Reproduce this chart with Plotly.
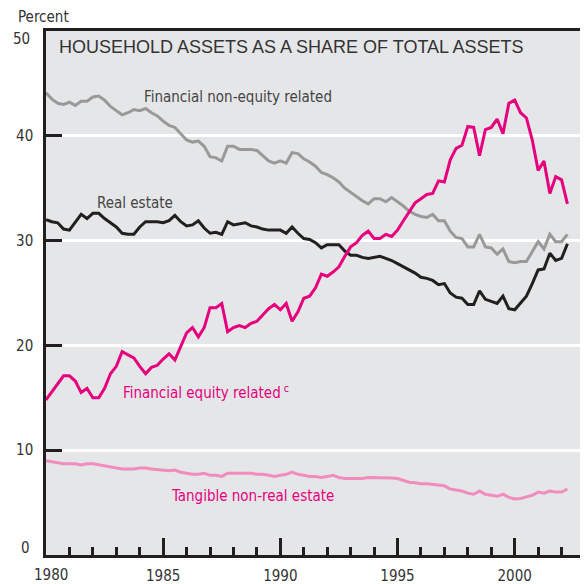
import plotly.graph_objects as go

# Quarterly data, 1980Q1 .. 2002Q2
start_year = 1980
n_quarters = 90
quarters = [start_year + i / 4 for i in range(n_quarters)]

financial_non_equity = [
    44.1, 43.5, 43.1, 43.0, 43.2, 42.9, 43.3, 43.3, 43.7, 43.8, 43.4, 42.8,
    42.4, 42.0, 42.2, 42.5, 42.4, 42.6, 42.2, 41.9, 41.4, 41.0, 40.8, 40.2,
    39.6, 39.4, 39.5, 39.0, 38.0, 37.9, 37.6, 39.0, 39.0, 38.7, 38.7, 38.7,
    38.6, 38.1, 37.6, 37.4, 37.6, 37.4, 38.4, 38.3, 37.8, 37.5, 37.1, 36.5,
    36.3, 36.0, 35.6, 35.0, 34.6, 34.2, 33.8, 33.5, 34.0, 34.0, 33.7, 34.1,
    33.7, 33.3, 32.8, 32.5, 32.3, 32.2, 32.5, 31.9, 31.9, 30.9, 30.3, 30.2,
    29.4, 29.4, 30.6, 29.4, 29.3, 28.7, 29.2, 28.0, 27.9, 28.0, 28.0, 28.9,
    29.9, 29.2, 30.6, 29.9, 29.9, 30.6,
]

real_estate = [
    32.0, 31.8, 31.7, 31.1, 31.0, 31.8, 32.5, 32.1, 32.6, 32.6, 32.1, 31.7,
    31.3, 30.7, 30.6, 30.6, 31.3, 31.8, 31.8, 31.8, 31.7, 31.9, 32.4, 31.8,
    31.4, 31.5, 31.9, 31.2, 30.7, 30.8, 30.6, 31.8, 31.5, 31.6, 31.7, 31.4,
    31.3, 31.1, 31.0, 31.0, 31.0, 30.7, 31.3, 30.7, 30.2, 30.1, 29.8, 29.3,
    29.6, 29.6, 29.6, 29.0, 28.6, 28.6, 28.4, 28.3, 28.4, 28.5, 28.3, 28.1,
    27.8, 27.5, 27.2, 26.9, 26.5, 26.4, 26.2, 25.8, 25.9, 25.0, 24.6, 24.5,
    23.9, 23.9, 25.2, 24.4, 24.2, 24.0, 24.7, 23.5, 23.4, 24.1, 24.7, 25.9,
    27.2, 27.3, 28.8, 28.1, 28.3, 29.7,
]

financial_equity = [
    14.8, 15.6, 16.4, 17.1, 17.1, 16.6, 15.5, 15.9, 15.0, 15.0, 15.9, 17.3,
    18.0, 19.4, 19.1, 18.8, 18.0, 17.3, 17.9, 18.1, 18.7, 19.2, 18.6, 19.9,
    21.2, 21.7, 20.8, 21.7, 23.6, 23.6, 24.0, 21.3, 21.7, 21.9, 21.7, 22.1,
    22.3, 22.9, 23.5, 23.9, 23.4, 24.0, 22.3, 23.2, 24.5, 24.7, 25.5, 26.8,
    26.6, 27.0, 27.5, 28.5, 29.4, 29.8, 30.5, 30.9, 30.2, 30.2, 30.6, 30.4,
    31.0, 31.9, 32.7, 33.6, 34.0, 34.4, 34.5, 35.7, 35.6, 37.7, 38.8, 39.1,
    40.9, 40.8, 38.1, 40.6, 40.8, 41.6, 40.2, 43.1, 43.4, 42.2, 41.7, 39.6,
    36.7, 37.6, 34.5, 36.1, 35.8, 33.5,
]

tangible_non_real_estate = [
    9.0, 8.9, 8.8, 8.7, 8.7, 8.7, 8.6, 8.7, 8.7, 8.6, 8.5, 8.4,
    8.3, 8.2, 8.2, 8.2, 8.3, 8.3, 8.2, 8.15, 8.1, 8.05, 8.1, 7.9,
    7.8, 7.7, 7.7, 7.8, 7.6, 7.6, 7.5, 7.8, 7.8, 7.8, 7.8, 7.8,
    7.7, 7.7, 7.6, 7.5, 7.6, 7.7, 7.9, 7.7, 7.6, 7.5, 7.5, 7.4,
    7.5, 7.6, 7.4, 7.3, 7.3, 7.3, 7.3, 7.4, 7.4, 7.4, 7.4, 7.35,
    7.3, 7.1, 6.95, 6.9, 6.8, 6.8, 6.75, 6.7, 6.6, 6.3, 6.2, 6.1,
    5.9, 5.8, 6.1, 5.8, 5.7, 5.6, 5.8, 5.5, 5.35, 5.4, 5.55, 5.7,
    6.0, 5.9, 6.1, 6.0, 6.0, 6.3,
]

x_tick_vals = [1980, 1985, 1990, 1995, 2000]
x_tick_text = ["", "1985", "1990", "1995", "2000"]
x_first_label = "1980"
y_tick_vals = [0, 10, 20, 30, 40, 50]
y_tick_text = ["", "10", "20", "30", "40", ""]
y_end_labels = ["0", "50"]

NARROW = "DejaVu Sans Condensed, Liberation Sans Narrow, Arial Narrow, sans-serif"
MAGENTA = "#e6007e"
PINK = "#f28cbf"
GRAY = "#999999"
BLACK = "#231f20"
TEXT = "#333333"
LBL = 15

fig = go.Figure()
fig.add_trace(go.Scatter(x=quarters, y=tangible_non_real_estate, mode="lines",
                         line=dict(color=PINK, width=3), hoverinfo="skip"))
fig.add_trace(go.Scatter(x=quarters, y=financial_non_equity, mode="lines",
                         line=dict(color=GRAY, width=3), hoverinfo="skip"))
fig.add_trace(go.Scatter(x=quarters, y=real_estate, mode="lines",
                         line=dict(color=BLACK, width=3), hoverinfo="skip"))
fig.add_trace(go.Scatter(x=quarters, y=financial_equity, mode="lines",
                         line=dict(color=MAGENTA, width=3), hoverinfo="skip"))

# figure is placed inside the page body (8px default margin)
W, H = 580, 576
ML, MR, MT, MB = 38, 3, 23, 29
PW, PH = W - ML - MR, H - MT - MB

annotations = [
    dict(x=1980.47, y=48.5, text="HOUSEHOLD ASSETS AS A SHARE OF TOTAL ASSETS",
         font=dict(family="Liberation Sans, Arial, sans-serif", size=18, color=TEXT)),
    dict(x=1984.09, y=43.7, text="Financial non-equity related",
         font=dict(family=NARROW, size=LBL, color="#444444")),
    dict(x=1982.09, y=33.6, text="Real estate",
         font=dict(family=NARROW, size=LBL, color="#444444")),
    dict(x=1983.2, y=15.6, text="Financial equity related<sup> c</sup>",
         font=dict(family=NARROW, size=LBL, color=MAGENTA)),
    dict(x=1985.25, y=5.67, text="Tangible non-real estate",
         font=dict(family=NARROW, size=LBL, color=MAGENTA)),
]
for a in annotations:
    a.update(xref="x", yref="y", xanchor="left", yanchor="middle", showarrow=False)

# end tick labels, nudged inward as in the reference
label_x = (24 - ML) / PW
annotations.append(dict(x=label_x, y=0.7, xref="paper", yref="y", xanchor="right",
                        yanchor="middle", text=y_end_labels[0], showarrow=False,
                        font=dict(family=NARROW, size=LBL, color=TEXT)))
annotations.append(dict(x=label_x, y=49.2, xref="paper", yref="y", xanchor="right",
                        yanchor="middle", text=y_end_labels[1], showarrow=False,
                        font=dict(family=NARROW, size=LBL, color=TEXT)))
annotations.append(dict(x=1980.22, y=-9 / PH, xref="x", yref="paper", xanchor="center",
                        yanchor="top", text=x_first_label, showarrow=False,
                        font=dict(family=NARROW, size=LBL, color=TEXT)))
annotations.append(dict(x=(8 - ML) / PW, y=1 + 14 / PH, xref="paper", yref="paper",
                        xanchor="left", yanchor="middle", text="Percent", showarrow=False,
                        font=dict(family=NARROW, size=LBL, color=TEXT)))

fig.update_layout(
    width=W, height=H,
    margin=dict(l=ML, r=MR, t=MT, b=MB, autoexpand=False),
    paper_bgcolor="white",
    plot_bgcolor="#e5e6e8",
    showlegend=False,
    annotations=annotations,
    xaxis=dict(
        range=[1980, 2003],
        tickvals=x_tick_vals, ticktext=x_tick_text,
        ticks="inside", ticklen=17, tickwidth=2.5, tickcolor=BLACK,
        minor=dict(dtick=1, tick0=1980, ticks="inside", ticklen=8, tickwidth=2.5,
                   tickcolor=BLACK, showgrid=False),
        showgrid=False, zeroline=False,
        showline=True, linecolor=BLACK, linewidth=2.5, mirror=True,
        tickfont=dict(family=NARROW, size=LBL, color=TEXT),
        ticklabelstandoff=5,
    ),
    yaxis=dict(
        range=[0, 50],
        tickvals=y_tick_vals, ticktext=y_tick_text,
        ticks="inside", ticklen=16, tickwidth=3, tickcolor=BLACK,
        showgrid=True, gridcolor="white", gridwidth=3,
        zeroline=False,
        showline=True, linecolor=BLACK, linewidth=2.5, mirror=True,
        tickfont=dict(family=NARROW, size=LBL, color=TEXT),
        ticklabelstandoff=7,
    ),
)

fig.write_html("out.html")
